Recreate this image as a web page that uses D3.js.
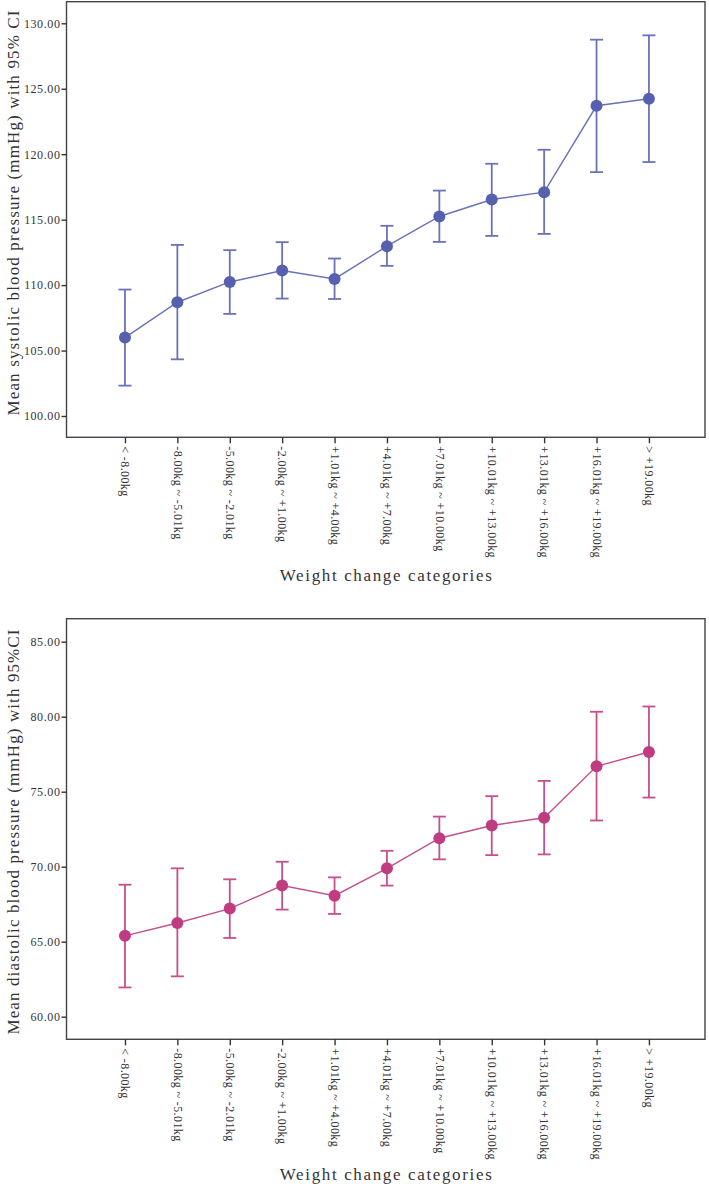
<!DOCTYPE html>
<html>
<head>
<meta charset="utf-8">
<script src="https://cdn.jsdelivr.net/npm/d3@7"></script>
<style>
  html, body { margin: 0; padding: 0; background: #ffffff; }
  svg { display: block; }
  text { font-family: "Liberation Serif", "DejaVu Serif", serif; fill: #333; }
</style>
</head>
<body>
<svg id="chart" width="709" height="1184"></svg>
<script>
// ---------- data ----------
const categories = [
  "< -8.00kg", "-8.00kg ~ -5.01kg", "-5.00kg ~ -2.01kg", "-2.00kg ~ +1.00kg",
  "+1.01kg ~ +4.00kg", "+4.01kg ~ +7.00kg", "+7.01kg ~ +10.00kg",
  "+10.01kg ~ +13.00kg", "+13.01kg ~ +16.00kg", "+16.01kg ~ +19.00kg", "> +19.00kg"
];
const sbpMean  = [105.99, 108.69, 110.24, 111.11, 110.47, 112.97, 115.24, 116.54, 117.10, 123.70, 124.24];
const sbpLower = [102.32, 104.33, 107.80, 108.97, 108.94, 111.47, 113.30, 113.76, 113.91, 118.63, 119.40];
const sbpUpper = [109.66, 113.07, 112.67, 113.28, 112.03, 114.53, 117.22, 119.27, 120.34, 128.75, 129.08];

const dbpMean  = [65.39, 66.25, 67.21, 68.74, 68.07, 69.89, 71.90, 72.75, 73.26, 76.69, 77.65];
const dbpLower = [61.95, 62.69, 65.25, 67.14, 66.85, 68.74, 70.49, 70.77, 70.82, 73.08, 74.61];
const dbpUpper = [68.80, 69.89, 69.16, 70.33, 69.29, 71.06, 73.34, 74.70, 75.72, 80.33, 80.68];

const sbpTicks = [100, 105, 110, 115, 120, 125, 130];
const dbpTicks = [60, 65, 70, 75, 80, 85];

const xTitle = "Weight change categories";
const sbpTitle = "Mean systolic blood pressure (mmHg) with 95% CI";
const dbpTitle = "Mean diastolic blood pressure (mmHg) with 95%CI";

// ---------- drawing ----------
const svg = d3.select("#chart");

function drawPanel(cfg) {
  const g = svg.append("g");
  const { frameTop, frameBottom, frameLeft, frameRight } = cfg;

  const x = d3.scaleLinear().domain([-1.116, 11.07]).range([frameLeft, frameRight]);
  const y = d3.scaleLinear().domain(cfg.yDomain).range(cfg.yRange);

  // frame
  g.append("rect")
    .attr("x", frameLeft).attr("y", frameTop)
    .attr("width", frameRight - frameLeft).attr("height", frameBottom - frameTop)
    .attr("fill", "none").attr("stroke", "#444").attr("stroke-width", 1.4);

  // y axis
  const yAxis = d3.axisLeft(y).tickValues(cfg.yTicks).tickFormat(d3.format(".2f"))
    .tickSize(5).tickPadding(1);
  const ya = g.append("g").attr("transform", `translate(${frameLeft},0)`).call(yAxis);
  ya.select(".domain").remove();
  ya.selectAll(".tick line").attr("stroke", "#333").attr("stroke-width", 1.4);
  ya.selectAll(".tick text")
    .attr("font-family", "Liberation Serif, serif")
    .attr("font-size", 12).attr("letter-spacing", 0.6)
    .attr("fill", "#444");

  // x axis
  const xAxis = d3.axisBottom(x).tickValues(d3.range(categories.length))
    .tickFormat(i => categories[i]).tickSize(6);
  const xa = g.append("g").attr("transform", `translate(0,${frameBottom})`).call(xAxis);
  xa.select(".domain").remove();
  xa.selectAll(".tick line").attr("stroke", "#333").attr("stroke-width", 1.4);
  xa.selectAll(".tick text")
    .attr("font-family", "Liberation Serif, serif")
    .attr("font-size", 12).attr("letter-spacing", 0.4)
    .attr("fill", "#444")
    .attr("text-anchor", "start")
    .attr("transform", "rotate(90)")
    .attr("x", 9).attr("y", 0).attr("dy", "0.35em");

  // y title
  g.append("text")
    .attr("transform", `translate(${cfg.yTitleX},${cfg.yTitleCenter}) rotate(-90)`)
    .attr("text-anchor", "middle")
    .attr("font-size", 17)
    .attr("textLength", 405).attr("lengthAdjust", "spacing")
    .attr("fill", "#444")
    .text(cfg.yTitle);

  // x title
  g.append("text")
    .attr("x", (frameLeft + frameRight) / 2).attr("y", cfg.xTitleY)
    .attr("text-anchor", "middle")
    .attr("font-size", 17)
    .attr("textLength", 212).attr("lengthAdjust", "spacing")
    .attr("fill", "#444")
    .text(xTitle);

  const idx = d3.range(categories.length);

  // error bars
  const eb = g.append("g").attr("stroke", cfg.lineColor).attr("stroke-width", 1.8).attr("fill", "none");
  eb.selectAll("line.v").data(idx).join("line").attr("class", "v")
    .attr("x1", i => x(i)).attr("x2", i => x(i))
    .attr("y1", i => y(cfg.lower[i])).attr("y2", i => y(cfg.upper[i]));
  eb.selectAll("line.capT").data(idx).join("line").attr("class", "capT")
    .attr("x1", i => x(i) - 6.5).attr("x2", i => x(i) + 6.5)
    .attr("y1", i => y(cfg.upper[i])).attr("y2", i => y(cfg.upper[i]));
  eb.selectAll("line.capB").data(idx).join("line").attr("class", "capB")
    .attr("x1", i => x(i) - 6.5).attr("x2", i => x(i) + 6.5)
    .attr("y1", i => y(cfg.lower[i])).attr("y2", i => y(cfg.lower[i]));

  // connecting line
  const line = d3.line().x(i => x(i)).y(i => y(cfg.mean[i]));
  g.append("path").datum(idx).attr("d", line)
    .attr("fill", "none").attr("stroke", cfg.lineColor).attr("stroke-width", 1.4);

  // points
  g.selectAll("circle.pt").data(idx).join("circle").attr("class", "pt")
    .attr("cx", i => x(i)).attr("cy", i => y(cfg.mean[i])).attr("r", 6)
    .attr("fill", cfg.pointColor);
}

drawPanel({
  frameTop: 1.7, frameBottom: 437.3, frameLeft: 66.5, frameRight: 705,
  yDomain: [100, 130], yRange: [416, 23.3], yTicks: sbpTicks,
  mean: sbpMean, lower: sbpLower, upper: sbpUpper,
  lineColor: "#6a72b8", pointColor: "#5660ae",
  yTitle: sbpTitle, yTitleX: 19, yTitleCenter: 213, xTitleY: 581
});

drawPanel({
  frameTop: 618.7, frameBottom: 1039.3, frameLeft: 66.5, frameRight: 705,
  yDomain: [60, 85], yRange: [1016.7, 641.7], yTicks: dbpTicks,
  mean: dbpMean, lower: dbpLower, upper: dbpUpper,
  lineColor: "#c4508c", pointColor: "#c03c80",
  yTitle: dbpTitle, yTitleX: 19, yTitleCenter: 832, xTitleY: 1180
});
</script>
</body>
</html>
